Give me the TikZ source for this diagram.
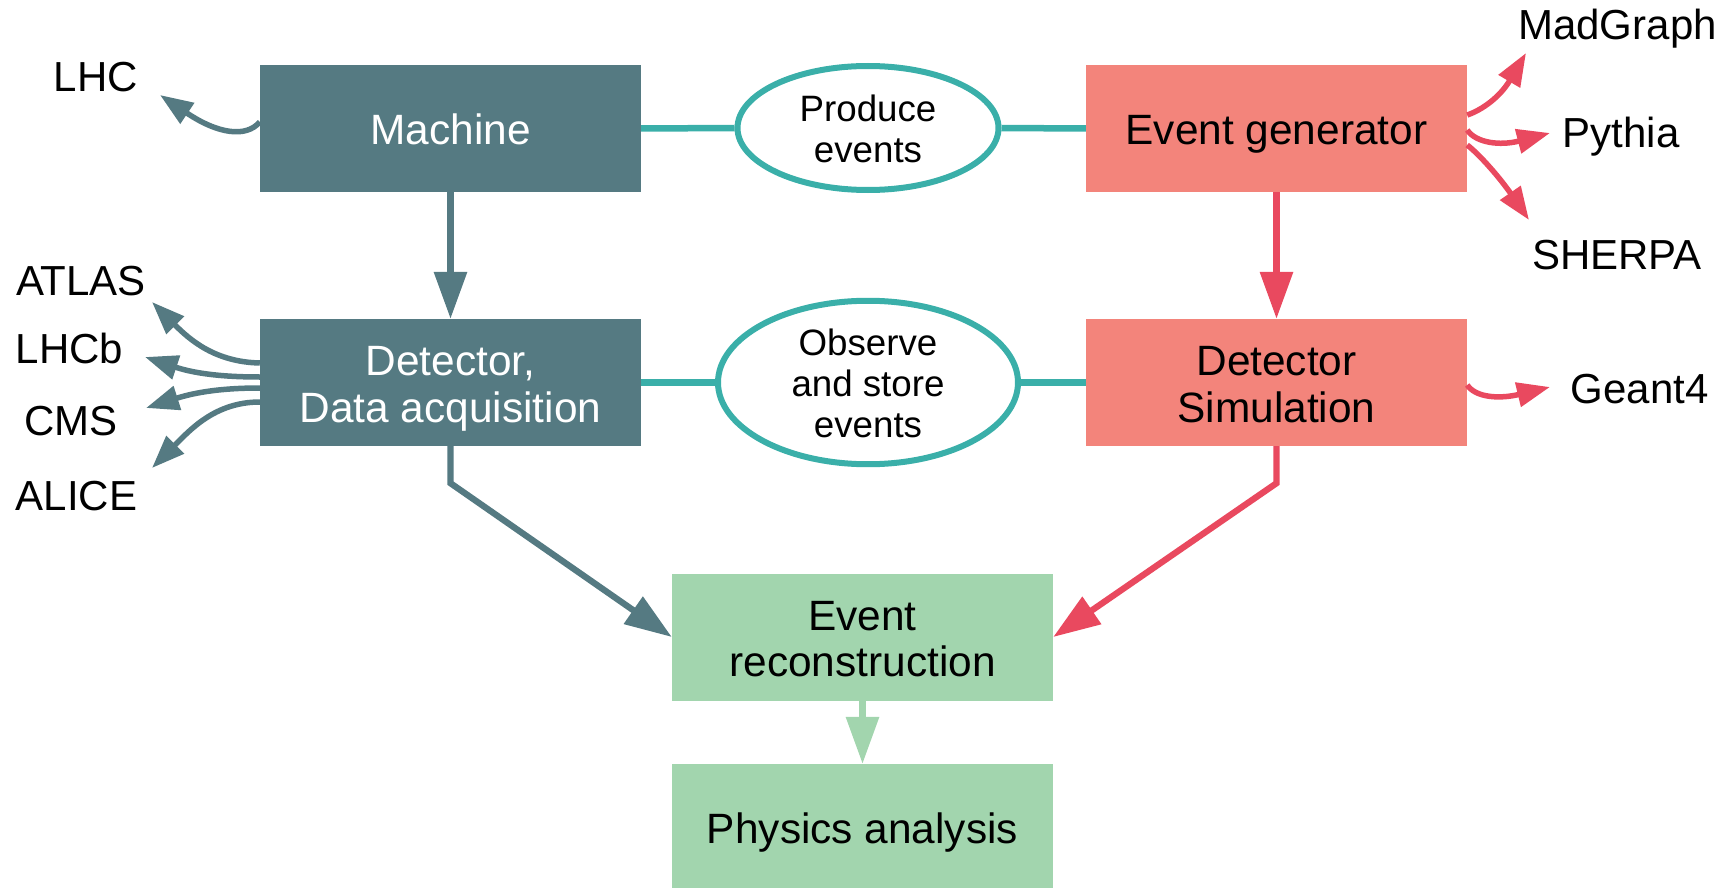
\documentclass[tikz,border=0pt]{standalone}
\usepackage{fontspec}
\setmainfont{Liberation Sans}
\usetikzlibrary{arrows.meta,shapes.geometric}

\definecolor{slate}{HTML}{557A82}
\definecolor{salmon}{HTML}{F3847B}
\definecolor{rose}{HTML}{E9495F}
\definecolor{mint}{HTML}{A2D5AE}
\definecolor{teal}{HTML}{3AAFA9}

% one line of box text, centred on its letters regardless of descenders
\newcommand{\boxline}[1]{\rule[-3.6pt]{0pt}{40pt}\smash{#1}}
\newcommand{\ovalline}[1]{\rule[-2.8pt]{0pt}{34pt}\smash{#1}}

\tikzset{
  box/.style={rectangle, minimum width=381pt, minimum height=127pt, inner sep=0pt,
    align=center, font=\fontsize{42.4}{46.5}\selectfont},
  realbox/.style={box, fill=slate, text=white},
  simbox/.style={box, fill=salmon, text=black},
  recobox/.style={box, fill=mint, text=black},
  oval/.style={ellipse, draw=teal, line width=6pt, inner sep=0pt, align=center,
    font=\fontsize{36.7}{40.8}\selectfont},
  tag/.style={inner sep=0pt, anchor=base, font=\fontsize{42}{48}\selectfont},
  link/.style={teal, line width=6.5pt},
  flow/.style={line width=6.3pt, -{Triangle[length=47pt,width=32pt]}},
  fan/.style={line width=5.5pt, -{Triangle[length=33pt,width=24pt]}},
}

\begin{document}
\begin{tikzpicture}[x=1pt,y=1pt]
  \useasboundingbox (0,0) rectangle (1727,-888);

  % main boxes
  \node[realbox] (machine)  at (450.5,-128.5) {\boxline{Machine}};
  \node[realbox] (detector) at (450.5,-382.5) {\boxline{Detector,}\\\boxline{Data acquisition}};
  \node[simbox]  (evgen)    at (1276.5,-128.5) {\boxline{Event generator}};
  \node[simbox]  (detsim)   at (1276.5,-382.5) {\boxline{Detector}\\\boxline{Simulation}};
  \node[recobox] (reco)     at (862.5,-637) {\boxline{Event}\\\boxline{reconstruction}};
  \node[recobox] (phys)     at (862.5,-827.5) {\boxline{Physics analysis}};

  % ovals joining the real and simulated chains
  \node[oval, minimum width=261pt, minimum height=124pt] (produce) at (868,-128)
    {\ovalline{Produce}\\\ovalline{events}};
  \node[oval, minimum width=300pt, minimum height=125pt] (observe) at (868,-382.5)
    {\ovalline{Observe}\\\ovalline{and store}\\\ovalline{events}};

  \draw[link] (machine.east) -- (produce.west);
  \draw[link] (produce.east) -- (evgen.west);
  \draw[link] (detector.east) -- (observe.west);
  \draw[link] (observe.east) -- (detsim.west);

  % vertical flow
  \draw[flow, slate] (machine.south) -- (detector.north);
  \draw[flow, rose] (evgen.south) -- (detsim.north);
  \draw[flow, slate] (detector.south) -- ++(0,-37) -- (reco.west);
  \draw[flow, rose] (detsim.south) -- ++(0,-37) -- (reco.east);
  \draw[flow, mint] (reco.south) -- (phys.north);

  % side labels
  \node[tag] (lhc)      at (96,-92)    {LHC};
  \node[tag] (atlas)    at (81,-295)   {ATLAS};
  \node[tag] (lhcb)     at (69.5,-363) {LHCb};
  \node[tag] (cms)      at (71,-435)   {CMS};
  \node[tag] (alice)    at (76.5,-510) {ALICE};
  \node[tag] (madgraph) at (1617.5,-40) {MadGraph};
  \node[tag] (pythia)   at (1621,-148) {Pythia};
  \node[tag] (sherpa)   at (1617,-269) {SHERPA};
  \node[tag] (geant)    at (1639.5,-403) {Geant4};

  % tips of the side arrows
  \coordinate (tlhc)   at (160,-95);
  \coordinate (tatlas) at (152,-302);
  \coordinate (tlhcb)  at (145,-357);
  \coordinate (tcms)   at (146,-408);
  \coordinate (talice) at (152,-468);
  \coordinate (tmad)   at (1526,-53);
  \coordinate (tpyth)  at (1550,-133);
  \coordinate (tsher)  at (1529,-220);
  \coordinate (tgeant) at (1550,-387);

  % fan of arrows from the real chain
  \draw[fan, slate] ([yshift=6.5pt]machine.west) .. controls (246,-138) and (218,-134) .. (tlhc);
  \draw[fan, slate] ([yshift=19.5pt]detector.west) .. controls (215,-362) and (190,-340) .. (tatlas);
  \draw[fan, slate] ([yshift=5.5pt]detector.west) .. controls (215,-377) and (190,-372) .. (tlhcb);
  \draw[fan, slate] ([yshift=-5.5pt]detector.west) .. controls (215,-388) and (190,-394) .. (tcms);
  \draw[fan, slate] ([yshift=-19.5pt]detector.west) .. controls (215,-402) and (190,-430) .. (talice);

  % fan of arrows from the simulated chain
  \draw[fan, rose] ([yshift=13.5pt]evgen.east) .. controls (1482,-110) and (1500,-97) .. (tmad);
  \draw[fan, rose] ([yshift=-1.5pt]evgen.east) .. controls (1476,-143) and (1500,-146) .. (tpyth);
  \draw[fan, rose] ([yshift=-16.5pt]evgen.east) .. controls (1480,-155) and (1500,-178) .. (tsher);
  \draw[fan, rose] ([yshift=-2.5pt]detsim.east) .. controls (1476,-398) and (1500,-399) .. (tgeant);
\end{tikzpicture}
\end{document}
